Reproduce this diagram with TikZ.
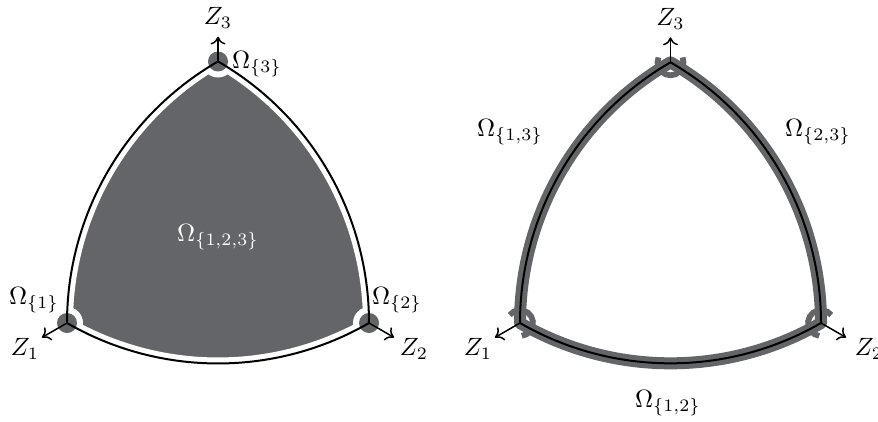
\documentclass[tikz,border=0pt]{standalone}
\usetikzlibrary{arrows.meta}
\definecolor{fillgray}{RGB}{100,101,104}
\begin{document}
\begin{tikzpicture}[x=0.4pt,y=0.4pt,
  axis/.style={-{To[length=3.2pt,width=6pt]}, line width=0.6pt},
  edge/.style={black, line width=0.8pt},
  lab/.style={inner sep=0pt}]
\useasboundingbox (0,0) rectangle (878,421);
\clip (0,0) rectangle (878,421);
% ---------- left figure ----------
\coordinate (A1) at (67,98);
\coordinate (A2) at (369,98);
\coordinate (A3) at (218,359.5);
\def\leftpath{(A1) arc[start angle=240,end angle=300,radius=302] arc[start angle=0,end angle=60,radius=302] arc[start angle=120,end angle=180,radius=302] -- cycle}
\fill[fillgray] \leftpath;
\draw[white, line width=4.8pt, line join=round] \leftpath;
\foreach \v in {A1,A2,A3}{
  \fill[white] (\v) circle[radius=16];
  \fill[fillgray] (\v) circle[radius=10];
}
\draw[edge, line join=miter] \leftpath;
\coordinate (A1e) at ([shift={(210:29)}]A1);
\coordinate (A2e) at ([shift={(-30:29)}]A2);
\coordinate (A3e) at ([shift={(90:25)}]A3);
\draw[axis] (A1) -- (A1e);
\draw[axis] (A2) -- (A2e);
\draw[axis] (A3) -- (A3e);
\node[lab, anchor=south] (zA3) at ([yshift=3]A3e) {$Z_3$};
\node[lab] (zA1) at (25,72) {$Z_1$};
\node[lab] (zA2) at (414,72) {$Z_2$};
\node[lab] (oA3) at (257,357) {$\Omega_{\{3\}}$};
\node[lab] (oA1) at (34,121) {$\Omega_{\{1\}}$};
\node[lab] (oA2) at (397,121) {$\Omega_{\{2\}}$};
\node[lab, text=white] (oA123) at (218,184) {$\Omega_{\{1,2,3\}}$};
% ---------- right figure ----------
\coordinate (B1) at (520,98);
\coordinate (B2) at (821,98);
\coordinate (B3) at (670.5,358.7);
\def\rightpath{(B1) arc[start angle=240,end angle=300,radius=301] arc[start angle=0,end angle=60,radius=301] arc[start angle=120,end angle=180,radius=301] -- cycle}
\draw[fillgray, line width=2.3pt] ([shift={(158:13)}]B3) arc[start angle=158,end angle=382,radius=13];
\draw[fillgray, line width=2.3pt] ([shift={(-82:13)}]B1) arc[start angle=-82,end angle=142,radius=13];
\draw[fillgray, line width=2.3pt] ([shift={(38:13)}]B2) arc[start angle=38,end angle=262,radius=13];
\draw[fillgray, line width=4.8pt, line join=round] \rightpath;
\draw[edge, line join=miter] \rightpath;
\coordinate (B1e) at ([shift={(210:29)}]B1);
\coordinate (B2e) at ([shift={(-30:29)}]B2);
\coordinate (B3e) at ([shift={(90:25)}]B3);
\draw[axis] (B1) -- (B1e);
\draw[axis] (B2) -- (B2e);
\draw[axis] (B3) -- (B3e);
\node[lab, anchor=south] (zB3) at ([yshift=3]B3e) {$Z_3$};
\node[lab] (zB1) at (478,72) {$Z_1$};
\node[lab] (zB2) at (869,72) {$Z_2$};
\node[lab] (oB13) at (510,289) {$\Omega_{\{1,3\}}$};
\node[lab] (oB23) at (818,289) {$\Omega_{\{2,3\}}$};
\node[lab] (oB12) at (668,18) {$\Omega_{\{1,2\}}$};
\end{tikzpicture}
\end{document}
